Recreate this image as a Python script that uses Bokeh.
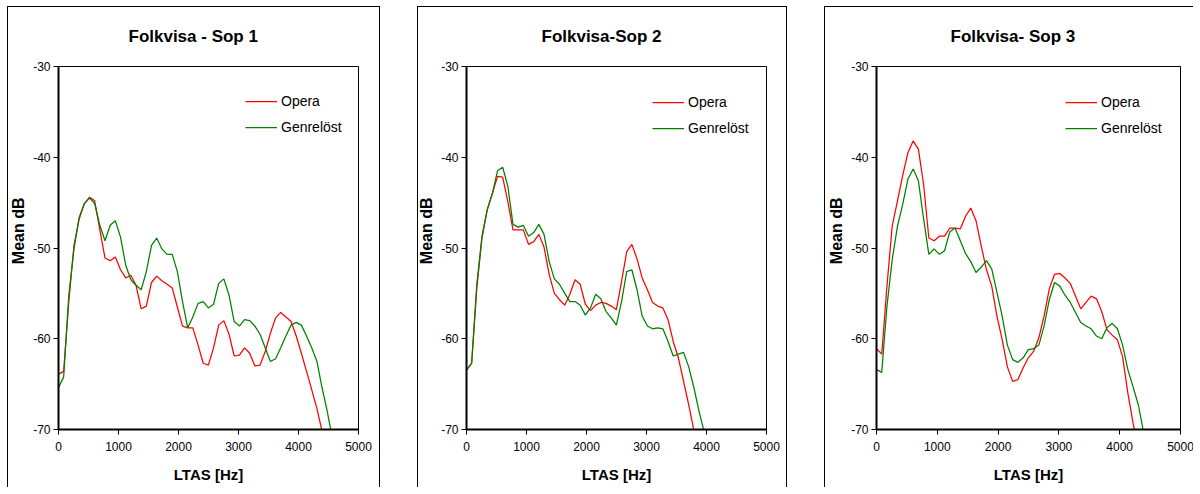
from bokeh.plotting import figure
from bokeh.layouts import row
from bokeh.models import FixedTicker, Legend, LegendItem, Spacer, Range1d, Title
from bokeh.embed import file_html
from bokeh.resources import INLINE

# LTAS frequency bins (Hz)
FREQ_HZ = [0, 86, 172, 258, 345, 431, 517, 603, 689, 775, 861, 947, 1034, 1120,
           1206, 1292, 1378, 1464, 1550, 1637, 1723, 1809, 1895, 1981, 2067, 2153,
           2239, 2326, 2412, 2498, 2584, 2670, 2756, 2842, 2928, 3015, 3101, 3187,
           3273, 3359, 3445, 3531, 3618, 3704, 3790, 3876, 3962, 4048, 4134, 4220,
           4307, 4393, 4479, 4565]

TITLES = ["Folkvisa - Sop 1", "Folkvisa-Sop 2", "Folkvisa- Sop 3"]
SERIES_NAMES = ["Opera", "Genrelöst"]

SOP1_OPERA = [-63.9, -63.6, -55.9, -49.7, -46.8, -45.1, -44.4, -44.8, -48.0, -51.1,
              -51.4, -51.0, -52.4, -53.3, -53.0, -54.1, -56.7, -56.4, -53.8, -53.1,
              -53.6, -54.0, -54.4, -56.5, -58.6, -58.8, -58.8, -60.7, -62.7, -62.9,
              -61.0, -58.5, -58.0, -59.5, -61.9, -61.8, -61.0, -61.6, -63.0, -62.9,
              -61.4, -59.4, -57.7, -57.1, -57.6, -58.1, -59.7, -61.6, -63.6, -65.6,
              -67.7, -70.2]
SOP1_GENRE = [-65.4, -64.2, -55.2, -50.1, -46.6, -45.1, -44.5, -45.1, -47.5, -49.2,
              -47.5, -47.0, -48.8, -51.9, -53.5, -54.1, -54.6, -52.6, -49.7, -48.9,
              -50.1, -50.7, -50.7, -52.6, -55.9, -58.8, -57.6, -56.1, -55.9, -56.6,
              -56.2, -53.9, -53.4, -55.2, -58.1, -58.6, -57.9, -58.0, -58.6, -59.5,
              -61.0, -62.5, -62.2, -61.0, -59.7, -58.5, -58.2, -58.5, -59.7, -61.0,
              -62.5, -65.4, -68.0, -71.0]

SOP2_OPERA = [-63.5, -62.7, -54.4, -48.9, -45.8, -44.0, -42.1, -42.2, -44.9, -48.0,
              -48.0, -48.0, -49.6, -49.3, -48.5, -49.9, -52.9, -55.0, -55.7, -56.3,
              -55.1, -53.5, -54.0, -56.2, -56.9, -56.3, -56.0, -56.1, -56.4, -56.8,
              -53.7, -50.4, -49.6, -51.2, -53.3, -54.6, -56.0, -56.4, -56.6, -57.9,
              -60.3, -62.1, -64.7, -67.3, -70.1]
SOP2_GENRE = [-63.4, -62.7, -54.0, -48.7, -45.8, -44.0, -41.5, -41.1, -43.2, -47.4,
              -47.7, -47.5, -48.7, -48.3, -47.4, -48.5, -51.5, -53.4, -54.0, -55.0,
              -55.9, -55.9, -56.3, -57.4, -56.6, -55.1, -55.6, -57.0, -57.7, -58.5,
              -55.9, -52.6, -52.4, -54.6, -57.5, -58.6, -58.9, -58.8, -58.9, -60.3,
              -61.9, -61.7, -61.5, -63.1, -65.4, -68.0, -70.3]

SOP3_OPERA = [-61.1, -61.7, -54.2, -47.6, -44.8, -42.0, -39.5, -38.2, -39.1, -43.0,
              -48.9, -49.2, -48.7, -48.7, -47.8, -47.8, -47.9, -46.5, -45.6, -47.0,
              -49.8, -52.4, -54.2, -57.5, -60.1, -63.1, -64.7, -64.5, -63.2, -62.1,
              -61.4, -59.9, -57.5, -54.5, -52.9, -52.8, -53.3, -53.9, -55.3, -56.7,
              -56.0, -55.3, -55.6, -57.0, -59.0, -59.6, -60.1, -62.0, -66.0, -69.3,
              -72.0]
SOP3_GENRE = [-63.4, -63.7, -56.4, -51.3, -47.6, -45.2, -42.4, -41.3, -42.6, -46.8,
              -50.7, -50.1, -50.7, -50.3, -48.2, -47.8, -49.2, -50.6, -51.5, -52.7,
              -52.1, -51.4, -52.3, -54.9, -57.5, -60.7, -62.3, -62.6, -62.1, -61.2,
              -61.1, -60.7, -58.6, -55.7, -53.8, -54.2, -55.2, -56.0, -57.1, -58.2,
              -58.6, -58.9, -59.7, -60.0, -58.8, -58.3, -58.9, -60.7, -63.4, -65.3,
              -67.3, -70.3]

X_TICKS = [0, 1000, 2000, 3000, 4000, 5000]
X_TICK_LABELS = ["0", "1000", "2000", "3000", "4000", "5000"]
Y_TICKS = [-70, -60, -50, -40, -30]
Y_TICK_LABELS = ["-70", "-60", "-50", "-40", "-30"]
X_LABEL = "LTAS [Hz]"
Y_LABEL = "Mean dB"

FONT = "Liberation Sans"
RED = "#ff0000"
GREEN = "#008000"
FIG_H = 494


def make_panel(title, opera, genre, width, left, right, title_offset,
               legend_x, legend_y, clip):
    p = figure(width=width, height=FIG_H,
               x_range=Range1d(0, 5000), y_range=Range1d(-70, -30),
               output_backend="svg", toolbar_location=None,
               min_border_left=left, min_border_right=right,
               min_border_top=66, min_border_bottom=65,
               background_fill_color="white", border_fill_color=None,
               styles={"outline": "1px solid black", "outline-offset": "-7px",
                       "clip-path": clip, "background-color": "white"})
    p.grid.visible = False
    p.outline_line_color = "black"
    p.outline_line_width = 1

    p.title.text = title
    p.title.text_font = FONT
    p.title.text_font_style = "bold"
    p.title.text_font_size = "17px"
    p.title.text_color = "black"
    p.title.align = "left"
    p.title.offset = title_offset
    p.title.standoff = 41

    for ax in (p.xaxis, p.yaxis):
        ax.axis_line_color = "black"
        ax.axis_line_width = 2
        ax.major_tick_line_color = "black"
        ax.major_tick_line_width = 1
        ax.major_tick_out = 5
        ax.major_tick_in = 0
        ax.minor_tick_line_color = None
        ax.major_label_text_font = FONT
        ax.major_label_text_font_size = "12px"
        ax.major_label_text_color = "black"

    p.xaxis.ticker = FixedTicker(ticks=X_TICKS, minor_ticks=[])
    p.xaxis.major_label_overrides = dict(zip(X_TICKS, X_TICK_LABELS))
    p.xaxis.major_label_standoff = 7
    p.xaxis.axis_label = X_LABEL
    p.xaxis.axis_label_standoff = 12
    p.xaxis.axis_label_text_font = FONT
    p.xaxis.axis_label_text_font_style = "bold"
    p.xaxis.axis_label_text_font_size = "15px"
    p.xaxis.axis_label_text_color = "black"

    p.yaxis.ticker = FixedTicker(ticks=Y_TICKS, minor_ticks=[])
    p.yaxis.major_label_overrides = dict(zip(Y_TICKS, Y_TICK_LABELS))
    p.yaxis.major_label_standoff = 3

    ylab = Title(text=Y_LABEL, align="right", offset=131, standoff=8,
                 text_font=FONT, text_font_style="bold", text_font_size="16px",
                 text_color="black")
    p.add_layout(ylab, "left")

    r1 = p.line(FREQ_HZ[:len(opera)], opera, line_color=RED, line_width=1.25)
    r2 = p.line(FREQ_HZ[:len(genre)], genre, line_color=GREEN, line_width=1.25)

    legend = Legend(items=[LegendItem(label=SERIES_NAMES[0], renderers=[r1]),
                           LegendItem(label=SERIES_NAMES[1], renderers=[r2])],
                    location=(legend_x, legend_y),
                    border_line_color=None, background_fill_alpha=0,
                    padding=0, margin=0, spacing=6,
                    glyph_width=32, glyph_height=20, label_height=20,
                    label_standoff=4, label_text_font=FONT,
                    label_text_font_size="14px", label_text_color="black")
    p.add_layout(legend)
    return p


p1 = make_panel(TITLES[0], SOP1_OPERA, SOP1_GENRE, 385, 57, 28, 70,
                187, 292, "inset(0 0 7px 0)")
p2 = make_panel(TITLES[1], SOP2_OPERA, SOP2_GENRE, 382, 55, 27, 75,
                186, 291, "inset(0 0 7px 0)")
p3 = make_panel(TITLES[2], SOP3_OPERA, SOP3_GENRE, 382, 58, 20, 74,
                189, 291, "inset(0 7px 7px 0)")

layout = row(Spacer(width=1, height=FIG_H), p1, Spacer(width=25, height=FIG_H),
             p2, Spacer(width=25, height=FIG_H), p3)

with open("out.html", "w") as f:
    f.write(file_html(layout, INLINE))
